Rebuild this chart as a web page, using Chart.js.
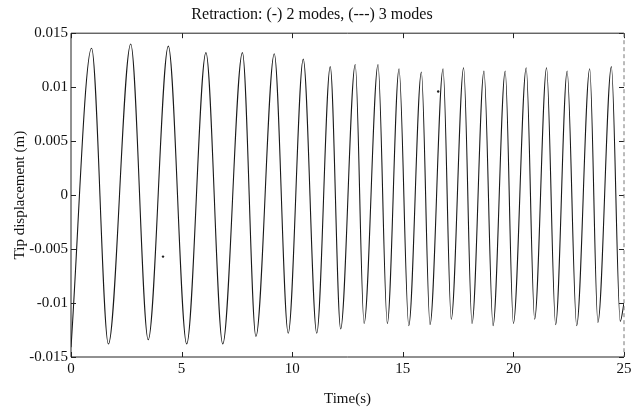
<!DOCTYPE html>
<html>
<head>
<meta charset="utf-8">
<script src="https://cdn.jsdelivr.net/npm/chart.js@4"></script>
<style>
  body { margin: 0; background: #fff; }
</style>
</head>
<body>
<canvas id="tip-chart" width="638" height="411"></canvas>
<script>
// peaks and troughs (time in s, displacement in m)
const timeValues = [0, 0.93, 1.69, 2.70, 3.49, 4.40, 5.23, 6.10, 6.86, 7.75, 8.36, 9.19, 9.82, 10.50,
    11.11, 11.72, 12.19, 12.85, 13.25, 13.88, 14.30, 14.83, 15.27, 15.84, 16.23, 16.82, 17.19, 17.75,
    18.13, 18.67, 19.08, 19.63, 20.00, 20.58, 20.96, 21.50, 21.91, 22.43, 22.86, 23.45, 23.82, 24.43,
    24.83, 25];
const tipValues = [-0.0141, 0.0136, -0.0138, 0.0140, -0.0134, 0.0138, -0.0138, 0.0132, -0.0138, 0.0132,
    -0.0131, 0.0131, -0.0128, 0.0126, -0.0128, 0.0119, -0.0124, 0.0121, -0.0119, 0.0121, -0.0119, 0.0117,
    -0.0121, 0.0114, -0.0120, 0.0117, -0.0115, 0.0118, -0.0119, 0.0115, -0.0121, 0.0115, -0.0119, 0.0118,
    -0.0115, 0.0118, -0.0120, 0.0115, -0.0121, 0.0117, -0.0118, 0.0119, -0.0117, -0.0100];

// stray specks on the scan
const speckTimes = [4.16, 16.6];
const speckValues = [-0.0057, 0.0096];

const xTickValues = [0, 5, 10, 15, 20, 25];
const xTickLabels = ['0', '5', '10', '15', '20', '25'];
const yTickValues = [-0.015, -0.01, -0.005, 0, 0.005, 0.01, 0.015];
const yTickLabels = ['-0.015', '-0.01', '-0.005', '0', '0.005', '0.01', '0.015'];

const serif = "'Liberation Serif', 'DejaVu Serif', serif";

// box around the plot with inward ticks on all four sides
const framePlugin = {
    id: 'frame',
    afterDatasetsDraw(chart) {
        const { ctx, chartArea: a, scales } = chart;
        const len = 5;
        ctx.save();
        ctx.strokeStyle = '#222';
        ctx.lineWidth = 1;
        ctx.beginPath();
        ctx.moveTo(a.left, a.top);
        ctx.lineTo(a.right, a.top);
        ctx.moveTo(a.left, a.top);
        ctx.lineTo(a.left, a.bottom);
        ctx.lineTo(a.right, a.bottom);
        xTickValues.forEach(v => {
            let px = Math.round(scales.x.getPixelForValue(v)) + 0.5;
            ctx.moveTo(px, a.bottom);
            ctx.lineTo(px, a.bottom - len);
            ctx.moveTo(px, a.top);
            ctx.lineTo(px, a.top + len);
        });
        yTickValues.forEach(v => {
            let py = Math.round(scales.y.getPixelForValue(v)) + 0.5;
            ctx.moveTo(a.left, py);
            ctx.lineTo(a.left + len, py);
            ctx.moveTo(a.right, py);
            ctx.lineTo(a.right - len, py);
        });
        ctx.stroke();
        // right edge is faint and broken on the scan
        ctx.strokeStyle = '#777';
        ctx.setLineDash([4, 3]);
        ctx.beginPath();
        ctx.moveTo(a.right, a.top);
        ctx.lineTo(a.right, a.bottom);
        ctx.stroke();
        ctx.restore();
    }
};

function renderChart() {
    let ctx = document.getElementById('tip-chart');

    new Chart(ctx, {
        type: 'line',
        data: {
            datasets: [{
                label: '2 modes',
                data: timeValues.map((t, i) => ({ x: t, y: tipValues[i] })),
                borderColor: '#1a1a1a',
                borderWidth: 1.1,
                pointRadius: 0,
                fill: false,
                cubicInterpolationMode: 'monotone'
            }, {
                label: 'specks',
                data: speckTimes.map((t, i) => ({ x: t, y: speckValues[i] })),
                showLine: false,
                pointRadius: 1.2,
                pointBackgroundColor: '#222',
                pointBorderWidth: 0
            }]
        },
        options: {
            responsive: false,
            animation: false,
            layout: { padding: { left: 0, right: 14, top: 0, bottom: 0 } },
            plugins: {
                legend: { display: false },
                tooltip: { enabled: false },
                title: {
                    display: true,
                    text: 'Retraction: (-) 2 modes, (---) 3 modes',
                    color: '#111',
                    font: { family: serif, size: 16, weight: 'normal' },
                    padding: { top: 5, bottom: 9 }
                }
            },
            scales: {
                x: {
                    type: 'linear',
                    min: 0,
                    max: 25,
                    afterBuildTicks: s => { s.ticks = xTickValues.map(v => ({ value: v })); },
                    afterFit: s => { s.height = 54; },
                    grid: { display: false, drawTicks: false },
                    border: { display: false },
                    ticks: {
                        color: '#111',
                        padding: 3,
                        maxRotation: 0,
                        font: { family: serif, size: 15 },
                        callback: v => xTickLabels[xTickValues.indexOf(v)]
                    },
                    title: {
                        display: true,
                        text: 'Time(s)',
                        color: '#111',
                        font: { family: serif, size: 15 },
                        padding: { top: 0, bottom: 3 }
                    }
                },
                y: {
                    min: -0.015,
                    max: 0.015,
                    afterBuildTicks: s => { s.ticks = yTickValues.map(v => ({ value: v })); },
                    afterFit: s => { s.width = 71; },
                    grid: { display: false, drawTicks: false },
                    border: { display: false },
                    ticks: {
                        color: '#111',
                        padding: 3,
                        font: { family: serif, size: 15 },
                        callback: v => yTickLabels[yTickValues.findIndex(t => Math.abs(t - v) < 1e-9)]
                    },
                    title: {
                        display: true,
                        text: 'Tip displacement (m)',
                        color: '#111',
                        font: { family: serif, size: 15 },
                        padding: { top: 11, bottom: 0 }
                    }
                }
            }
        },
        plugins: [framePlugin]
    });
}

renderChart();
</script>
</body>
</html>
